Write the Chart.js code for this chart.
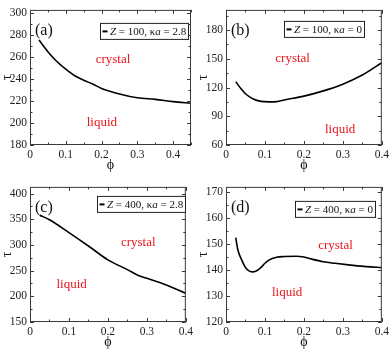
<!DOCTYPE html>
<html><head><meta charset="utf-8">
<script src="https://cdn.jsdelivr.net/npm/chart.js@4/dist/chart.umd.min.js"></script>
<style>
html,body{margin:0;padding:0;background:#fff;}
#wrap{position:relative;width:392px;height:354px;overflow:hidden;}
canvas{position:absolute;}
</style></head><body>
<div id="wrap">
<canvas id="c0" width="196" height="177" style="left:0;top:0"></canvas>
<canvas id="c1" width="196" height="177" style="left:196px;top:0"></canvas>
<canvas id="c2" width="196" height="177" style="left:0;top:177px"></canvas>
<canvas id="c3" width="196" height="177" style="left:196px;top:177px"></canvas>
</div>
<script>
// ---- data ----
const phiA = [0.025, 0.05, 0.075, 0.1, 0.125, 0.15, 0.175, 0.2, 0.25, 0.3, 0.35, 0.4, 0.45];
const tauA = [275.5, 265, 256, 249, 243, 239, 235.5, 231.5, 226.5, 223, 221.5, 219.5, 218];

const phiB = [0.025, 0.04, 0.05, 0.07, 0.09, 0.11, 0.13, 0.15, 0.2, 0.25, 0.3, 0.35, 0.4];
const tauB = [126, 118, 113.5, 108, 105.5, 105, 105.3, 107, 111, 116.5, 123.5, 133, 146];

const phiC = [0.025, 0.05, 0.1, 0.15, 0.2, 0.25, 0.28, 0.3, 0.35, 0.4];
const tauC = [358, 349, 324, 298, 271, 252, 240, 235, 222, 206];

const phiD = [0.025, 0.03, 0.04, 0.05, 0.06, 0.07, 0.08, 0.09, 0.1, 0.11, 0.13, 0.15, 0.18, 0.2, 0.22, 0.25, 0.28, 0.32, 0.36, 0.4];
const tauD = [152.5, 148, 144, 141, 139.6, 139.3, 139.8, 141, 142.6, 143.8, 144.9, 145.2, 145.3, 145, 144.2, 143.2, 142.6, 141.9, 141.3, 141];

const panelLabels = ['(a)', '(b)', '(c)', '(d)'];
const legendZ = ['100', '100', '400', '400'];
const legendKa = ['2.8', '0', '2.8', '0'];

const xMax = [0.45, 0.4, 0.4, 0.4];
const yMin = [180, 60, 150, 120];
const yMax = [303, 201, 413, 172];
const yStep = [20, 30, 50, 10];
const xStep = 0.1;

// region labels in data coordinates
const crystalPos = [[0.232, 258], [0.171, 150], [0.278, 304], [0.281, 149.6]];
const liquidPos  = [[0.201, 200.5], [0.293, 76.6], [0.107, 222], [0.157, 131.5]];

const series = [[phiA, tauA], [phiB, tauB], [phiC, tauC], [phiD, tauD]];
const legendOffset = [[70, 13], [58, 11], [67, 9], [69, 14]];

const SERIF = '"Liberation Serif", "DejaVu Serif", serif';

const framePlugin = {
  id: 'frame',
  afterDatasetsDraw(chart) {
    const p = chart.options.plugins.frame;
    const {ctx, chartArea: a} = chart;
    const x = chart.scales.x, y = chart.scales.y;
    ctx.save();
    ctx.strokeStyle = '#3a3a3a';
    ctx.lineWidth = 1;
    ctx.strokeRect(a.left + 0.5, a.top + 0.5, a.right - a.left - 1, a.bottom - a.top - 1);
    ctx.beginPath();
    const n = Math.round((x.max - x.min) / (p.xStep / 2));
    for (let i = 0; i <= n; i++) {
      const v = x.min + i * p.xStep / 2;
      const px = Math.round(x.getPixelForValue(v)) + 0.5;
      const len = i % 2 === 0 ? 4 : 2.5;
      ctx.moveTo(px, a.bottom); ctx.lineTo(px, a.bottom - len);
      ctx.moveTo(px, a.top); ctx.lineTo(px, a.top + len);
    }
    const m = Math.floor((y.max - y.min) / (p.yStep / 2) + 1e-9);
    for (let i = 0; i <= m; i++) {
      const v = y.min + i * p.yStep / 2;
      const py = Math.round(y.getPixelForValue(v)) + 0.5;
      const len = i % 2 === 0 ? 4 : 2.5;
      ctx.moveTo(a.left, py); ctx.lineTo(a.left + len, py);
      ctx.moveTo(a.right, py); ctx.lineTo(a.right - len, py);
    }
    ctx.stroke();

    // panel label
    ctx.fillStyle = '#111';
    ctx.font = '16px ' + SERIF;
    ctx.textBaseline = 'middle';
    ctx.textAlign = 'left';
    ctx.fillText(p.label, a.left + 5, a.top + 21);

    // region labels
    ctx.fillStyle = '#e8161b';
    ctx.font = '13px ' + SERIF;
    ctx.textAlign = 'center';
    ctx.fillText('crystal', x.getPixelForValue(p.crystal[0]), y.getPixelForValue(p.crystal[1]));
    ctx.fillText('liquid', x.getPixelForValue(p.liquid[0]), y.getPixelForValue(p.liquid[1]));

    // legend box
    const parts = [['Z', true], [' = ' + p.z + ', κ', false], ['a', true], [' = ' + p.ka, false]];
    const fs = 11;
    let w = 0;
    for (const [t, it] of parts) {
      ctx.font = (it ? 'italic ' : '') + fs + 'px ' + SERIF;
      w += ctx.measureText(t).width;
    }
    const bx = a.left + p.legend[0], by = a.top + p.legend[1];
    const bw = Math.round(2 + 5 + 3 + w + 2), bh = 16;
    ctx.fillStyle = '#fff';
    ctx.fillRect(bx, by, bw, bh);
    ctx.strokeStyle = '#222';
    ctx.lineWidth = 1;
    ctx.strokeRect(bx + 0.5, by + 0.5, bw, bh);
    ctx.beginPath();
    ctx.lineWidth = 2;
    ctx.strokeStyle = '#000';
    ctx.moveTo(bx + 2.5, by + 8.5); ctx.lineTo(bx + 7.5, by + 8.5);
    ctx.stroke();
    ctx.fillStyle = '#111';
    ctx.textAlign = 'left';
    ctx.textBaseline = 'middle';
    let tx = bx + 10;
    for (const [t, it] of parts) {
      ctx.font = (it ? 'italic ' : '') + fs + 'px ' + SERIF;
      ctx.fillText(t, tx, by + 9);
      tx += ctx.measureText(t).width;
    }
    ctx.restore();
  }
};

function makeChart(i) {
  const [xs, ys] = series[i];
  const data = xs.map((v, k) => ({x: v, y: ys[k]}));
  new Chart(document.getElementById('c' + i), {
    type: 'line',
    data: {datasets: [{data, borderColor: '#000', borderWidth: 1.6, pointRadius: 0, fill: false, tension: 0.4, cubicInterpolationMode: 'monotone'}]},
    options: {
      responsive: false, animation: false, devicePixelRatio: 1,
      layout: {padding: {left: 0, right: 5, top: 1, bottom: 0}, autoPadding: false},
      plugins: {
        legend: {display: false}, tooltip: {enabled: false},
        frame: {xStep, yStep: yStep[i], label: panelLabels[i], crystal: crystalPos[i], liquid: liquidPos[i], z: legendZ[i], ka: legendKa[i], legend: legendOffset[i]}
      },
      scales: {
        x: {
          type: 'linear', min: 0, max: xMax[i],
          grid: {display: false, drawTicks: false}, border: {display: false},
          ticks: {stepSize: xStep, includeBounds: false, padding: 3, color: '#222', font: {family: SERIF, size: 11.5}, maxRotation: 0,
            callback: v => (Math.round(v * 10) / 10).toString()},
          title: {display: true, text: 'ϕ', color: '#111', font: {family: SERIF, size: 14, lineHeight: 1.2}, padding: {top: 0, bottom: 3}},
          afterFit: s => { s.height = 32; }
        },
        y: {
          type: 'linear', min: yMin[i], max: yMax[i],
          grid: {display: false, drawTicks: false}, border: {display: false},
          ticks: {stepSize: yStep[i], includeBounds: false, padding: 3, color: '#222', font: {family: SERIF, size: 11.5}},
          title: {display: true, text: 'τ', color: '#111', font: {family: SERIF, size: 14, lineHeight: 1}, padding: 0},
          afterFit: s => { s.width = 30; }
        }
      }
    },
    plugins: [framePlugin]
  });
}
for (let i = 0; i < 4; i++) makeChart(i);
</script>
</body></html>
